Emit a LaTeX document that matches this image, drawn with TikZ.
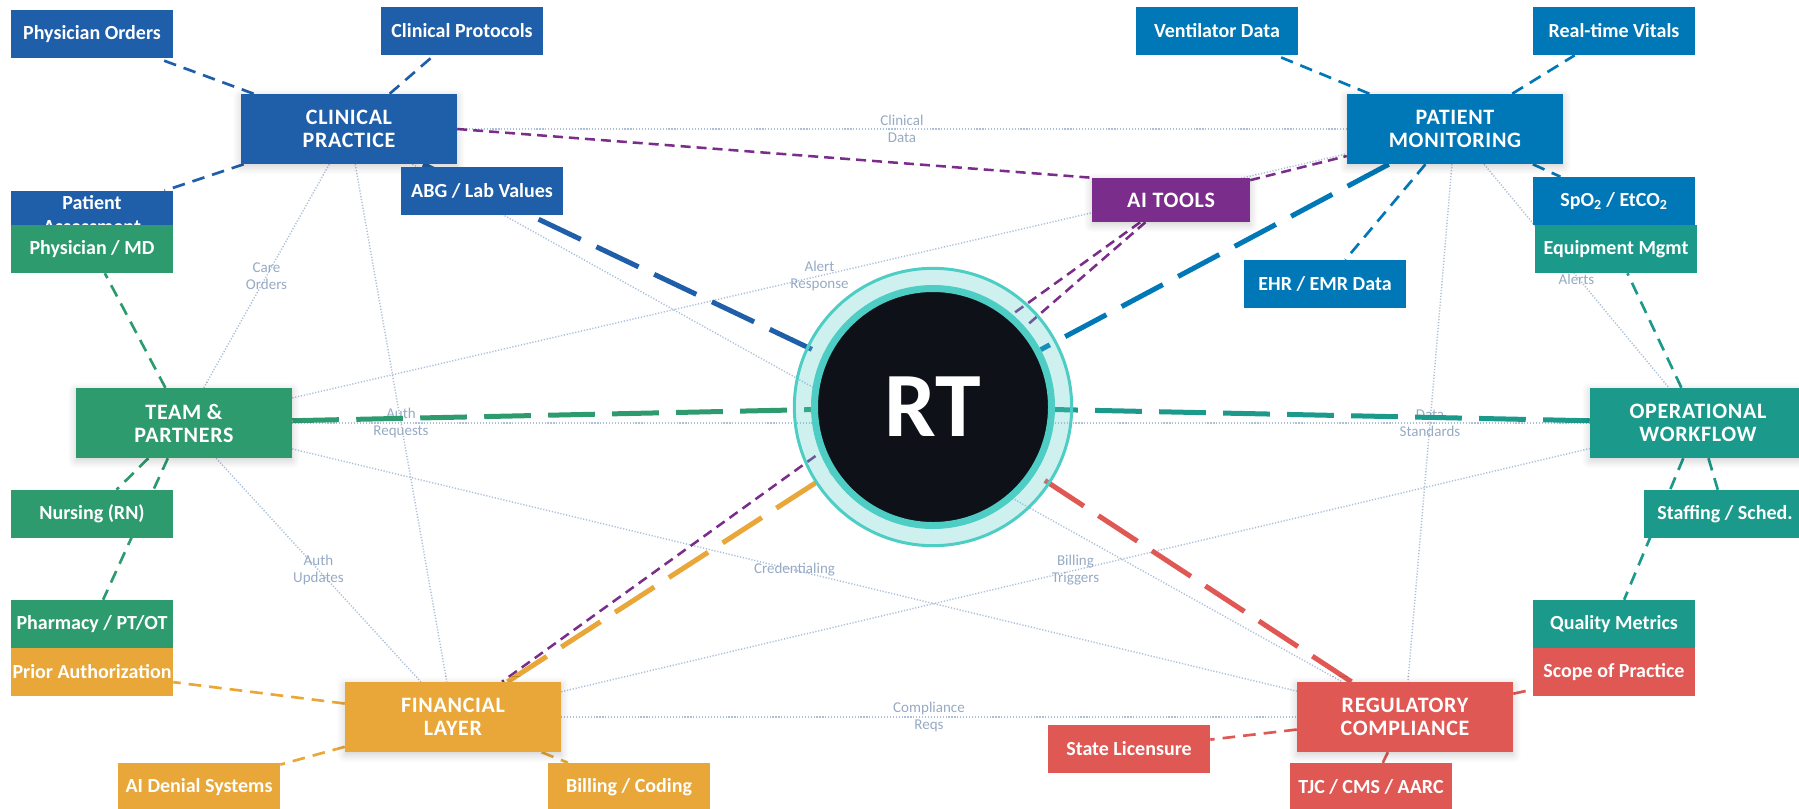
\documentclass[tikz,border=0pt]{standalone}
\usepackage{fontspec}
\setmainfont{Carlito}
\newfontfamily\hubfont[LetterSpace=3]{Carlito}
\usetikzlibrary{shadows.blur}

\definecolor{clinblue}{RGB}{31,94,168}
\definecolor{monblue}{RGB}{0,119,182}
\definecolor{teamgreen}{RGB}{46,155,111}
\definecolor{opsteal}{RGB}{27,154,140}
\definecolor{finorange}{RGB}{232,167,56}
\definecolor{regred}{RGB}{224,88,84}
\definecolor{aipurple}{RGB}{123,45,139}
\definecolor{rtblack}{RGB}{14,17,24}
\definecolor{ringteal}{RGB}{78,205,196}
\definecolor{linkgray}{RGB}{172,192,218}
\definecolor{labelgray}{RGB}{150,170,196}

\pgfdeclarelayer{bg}
\pgfdeclarelayer{halo}
\pgfsetlayers{bg,halo,main}

\begin{document}
\begin{tikzpicture}[x=0.75pt, y=-0.75pt,
    subbox/.style={fill=#1, text=white, minimum width=121.5pt, minimum height=36pt,
      inner sep=0pt, align=center, font=\fontsize{15}{18}\selectfont\bfseries},
    hubbox/.style={fill=#1, text=white, minimum width=162pt, minimum height=52.5pt,
      inner sep=0pt, align=center, font=\hubfont\fontsize{16.5}{17.25}\selectfont\bfseries,
      blur shadow={shadow blur steps=8, shadow xshift=0pt, shadow yshift=-2pt,
        shadow blur radius=6pt, shadow opacity=20}},
    crosslink/.style={draw=linkgray, line width=1.1pt, dash pattern=on 0.9pt off 1.3pt},
    linklabel/.style={text=labelgray, align=center, inner sep=1pt,
      font=\fontsize{11.25}{12.5}\selectfont},
    subline/.style={line width=2pt, dash pattern=on 9.5pt off 6pt},
    ailink/.style={draw=aipurple, line width=1.9pt, dash pattern=on 7.5pt off 4.5pt},
    spoke/.style={line width=3.75pt, dash pattern=on 35pt off 13pt}]

  \useasboundingbox (0,0) rectangle (1799,808);

  % hubs
  \node[hubbox=clinblue] (clin) at (349,129) {CLINICAL\\PRACTICE};
  \node[hubbox=monblue] (mon) at (1455,129) {PATIENT\\MONITORING};
  \node[hubbox=teamgreen] (team) at (184,423) {TEAM \&\\PARTNERS};
  \node[hubbox=opsteal] (ops) at (1698,423) {OPERATIONAL\\WORKFLOW};
  \node[hubbox=finorange] (fin) at (453,717) {FINANCIAL\\LAYER};
  \node[hubbox=regred] (reg) at (1405,717) {REGULATORY\\COMPLIANCE};
  \node[hubbox=aipurple, minimum width=118.5pt, minimum height=33pt] (ai) at (1171,200) {AI TOOLS};

  % centre
  \node[circle, fill=rtblack, draw=ringteal, line width=5.25pt, minimum size=177.75pt,
    inner sep=0pt, text=white, font=\fontsize{69}{69}\selectfont\bfseries] (rt) at (933,407) {RT};

  % leaves
  \node[subbox=clinblue] (porders) at (92,34) {Physician Orders};
  \node[subbox=clinblue] (protocols) at (462,31) {Clinical Protocols};
  \node[subbox=clinblue] (assess) at (92,215) {Patient\\Assessment};
  \node[subbox=clinblue] (abg) at (482,191) {ABG / Lab Values};
  \node[subbox=teamgreen] (md) at (92,249) {Physician / MD};
  \node[subbox=teamgreen] (rn) at (92,514) {Nursing (RN)};
  \node[subbox=teamgreen] (pharm) at (92,624) {Pharmacy / PT/OT};
  \node[subbox=finorange] (prior) at (92,672) {Prior Authorization};
  \node[subbox=finorange] (denial) at (199,787) {AI Denial Systems};
  \node[subbox=finorange] (billing) at (629,787) {Billing / Coding};
  \node[subbox=monblue] (vent) at (1217,31) {Ventilator Data};
  \node[subbox=monblue] (vitals) at (1614,31) {Real-time Vitals};
  \node[subbox=monblue] (spo) at (1614,201) {SpO\textsubscript{2} / EtCO\textsubscript{2}};
  \node[subbox=opsteal] (equip) at (1616,249) {Equipment Mgmt};
  \node[subbox=monblue] (ehr) at (1325,284) {EHR / EMR Data};
  \node[subbox=opsteal] (staff) at (1725,514) {Staffing / Sched.};
  \node[subbox=opsteal] (quality) at (1614,624) {Quality Metrics};
  \node[subbox=regred] (scope) at (1614,672) {Scope of Practice};
  \node[subbox=regred] (licens) at (1129,749) {State Licensure};
  \node[subbox=regred] (tjc) at (1371,787) {TJC / CMS / AARC};

  \begin{pgfonlayer}{halo}
    \draw[ringteal, line width=2.25pt, fill=ringteal, fill opacity=0.28] (rt.center) circle (104pt);
  \end{pgfonlayer}

  \begin{pgfonlayer}{bg}
    % links between hubs
    \foreach \src/\dst/\txt in {clin/mon/{Clinical\\Data}, clin/team/{Care\\Orders},
        clin/fin/{Auth\\Requests}, team/mon/{Alert\\Response}, team/fin/{Auth\\Updates},
        team/reg/{Credentialing}, mon/ops/{\mbox{}\\Alerts}, mon/reg/{Data\\Standards},
        fin/ops/{Billing\\Triggers}, fin/reg/{Compliance\\Reqs}}
      \draw[crosslink] (\src) -- node[linklabel] {\txt} (\dst);
    \draw[crosslink] (clin) -- (reg);
    \draw[crosslink] (team) -- (ops);

    % hub to leaves
    \foreach \hub/\col/\leaves in {clin/clinblue/{porders,protocols,assess,abg},
        mon/monblue/{vent,vitals,spo,ehr}, team/teamgreen/{md,rn,pharm},
        ops/opsteal/{equip,staff,quality}, fin/finorange/{prior,denial,billing},
        reg/regred/{scope,licens,tjc}}
      \foreach \leaf in \leaves
        \draw[subline, \col] (\hub) -- (\leaf);

    % ai tools
    \draw[ailink] (clin.east) -- (ai.north west);
    \foreach \dst in {mon, rt, fin}
      \draw[ailink] (ai) -- (\dst);

    % spokes to RT
    \foreach \src/\col in {clin/clinblue, mon/monblue, team/teamgreen,
        ops/opsteal, fin/finorange, reg/regred}
      \draw[spoke, \col] (\src) -- (rt);
  \end{pgfonlayer}
\end{tikzpicture}
\end{document}
